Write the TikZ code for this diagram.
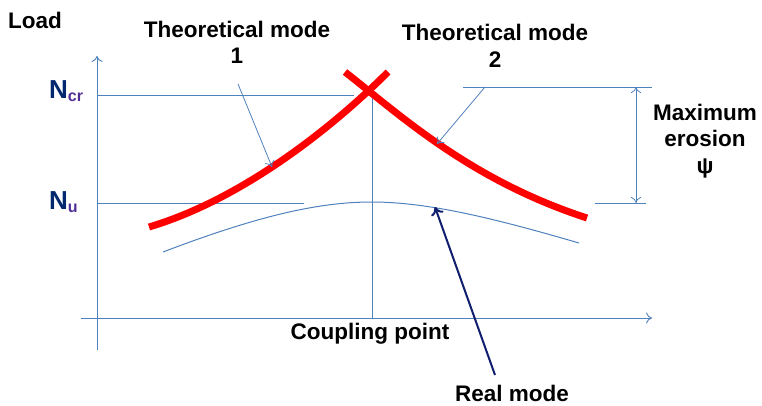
\documentclass[tikz,border=0pt]{standalone}
\usepackage{fontspec}
\setmainfont{Liberation Sans}
\usetikzlibrary{arrows.meta}
\definecolor{axblue}{RGB}{79,129,189}
\definecolor{navy}{RGB}{16,30,110}
\definecolor{ncol}{RGB}{0,40,110}
\definecolor{subcol}{RGB}{80,45,150}
\tikzset{
  axis/.style={draw=axblue, line width=0.9pt},
  guide/.style={draw=axblue, line width=0.8pt},
  pointer/.style={draw=axblue, line width=0.8pt, -{To[length=6pt,width=10pt]}},
  theory/.style={draw=red, line width=7pt},
  real/.style={draw=axblue, line width=1pt},
  lbl/.style={font=\fontsize{22.5}{26.5}\selectfont\bfseries, align=center, inner sep=0pt, text=black},
  nlbl/.style={font=\fontsize{26}{28}\selectfont\bfseries, inner sep=0pt, text=ncol, anchor=base west},
}
\newcommand{\sublbl}[1]{{\color{subcol}\fontsize{16}{16}\selectfont\raisebox{-3pt}{#1}}}
\begin{document}
\begin{tikzpicture}[x=1pt,y=-1pt]
\useasboundingbox (0,0) rectangle (762,406);
% coordinates
\coordinate (yb) at (97,350);
\coordinate (yt) at (97,56);
\coordinate (xl) at (81,318);
\coordinate (xr) at (652,318);
\coordinate (ncrL) at (97,95);
\coordinate (ncrR) at (354,95);
\coordinate (nuL) at (97,203);
\coordinate (nuR) at (304,203);
\coordinate (vt) at (372,90);
\coordinate (vb) at (372,318);
\coordinate (eT1) at (463,87);
\coordinate (eT2) at (652,87);
\coordinate (eB1) at (595,203);
\coordinate (eB2) at (646,203);
\coordinate (eA) at (636,87);
\coordinate (eB) at (636,203);
% axes
\draw[axis,-{To[length=6pt,width=11pt]}] (yb) -- (yt);
\draw[axis,-{To[length=6pt,width=11pt]}] (xl) -- (xr);
% guide lines
\draw[guide] (ncrL) -- (ncrR);
\draw[guide] (nuL) -- (nuR);
\draw[guide] (vt) -- (vb);
\draw[guide] (eT1) -- (eT2);
\draw[guide] (eB1) -- (eB2);
\draw[guide,{To[length=6pt,width=10pt]}-{To[length=6pt,width=10pt]}] (eA) -- (eB);
% real mode curve
\draw[real] (163,252) .. controls (260,215) and (320,202) .. (372,202)
  .. controls (430,202) and (500,220) .. (579,243);
% theoretical curves
\draw[theory] (149,227) .. controls (240,200) and (330,130) .. (388,72);
\draw[theory] (345,72) .. controls (400,115) and (470,180) .. (587,218);
% labels
\node[lbl] (load) at (35,20) {Load};
\node[lbl] (tm1) at (237,42.5) {Theoretical mode\\1};
\node[lbl] (tm2) at (495,46) {Theoretical mode\\2};
\node[lbl] (ero) at (705,141) {Maximum\\erosion\\ψ};
\node[lbl] (cp) at (370,334) {Coupling point};
\node[lbl] (rm) at (512,393.5) {Real mode};
\node[nlbl] (ncr) at (49,99) {N\sublbl{cr}};
\node[nlbl] (nu) at (49,209) {N\sublbl{u}};
% pointers
\coordinate (p1s) at (238,84);
\coordinate (p1e) at (272,167);
\coordinate (p2s) at (485,87);
\coordinate (p2e) at (437,144);
\coordinate (p3s) at (495,375);
\coordinate (p3e) at (435,207);
\draw[pointer] (p1s) -- (p1e);
\draw[pointer] (p2s) -- (p2e);
\draw[draw=navy, line width=2pt, -{To[length=8pt,width=13pt,line width=2pt]}] (p3s) -- (p3e);
\end{tikzpicture}
\end{document}
